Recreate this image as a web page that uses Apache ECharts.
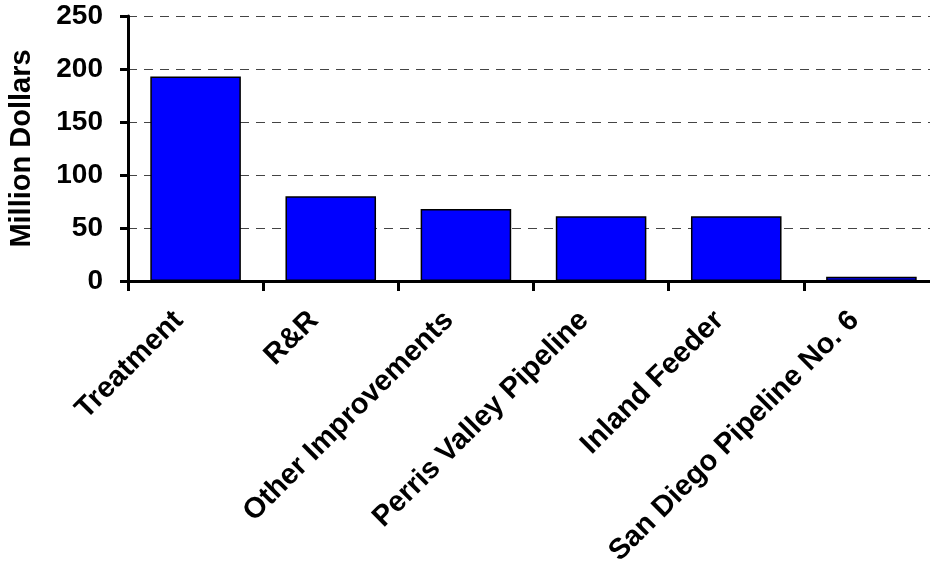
<!DOCTYPE html>
<html>
<head>
<meta charset="utf-8">
<script src="https://cdn.jsdelivr.net/npm/echarts@6/dist/echarts.min.js"></script>
<style>
  html, body { margin: 0; padding: 0; background: #fff; }
  #chart { width: 930px; height: 562px; }
</style>
</head>
<body>
<div id="chart"></div>
<script>
// categories and values (million dollars)
const categories = [
  "Treatment",
  "R&R",
  "Other Improvements",
  "Perris Valley Pipeline",
  "Inland Feeder",
  "San Diego Pipeline No. 6",
];
const spending = [193, 80, 68, 61, 61, 4];
const yTicks = [0, 50, 100, 150, 200, 250];

const font = "'Liberation Sans', Arial, sans-serif";

function renderChart() {
  const options = {
    animation: false,
    grid: {
      left: 128,
      top: 16,
      bottom: 281,
      width: 811,
      containLabel: false,
      outerBoundsMode: "none",
    },
    xAxis: {
      type: "category",
      data: categories,
      axisLine: { lineStyle: { color: "#000", width: 3 } },
      axisTick: {
        show: true,
        length: 10,
        lineStyle: { color: "#000", width: 3 },
      },
      axisLabel: {
        interval: 0,
        rotate: 45,
        margin: 18,
        padding: [0, 24, 0, 0],
        color: "#000",
        fontFamily: font,
        fontWeight: "bold",
        fontSize: 29,
      },
    },
    yAxis: {
      type: "value",
      min: yTicks[0],
      max: yTicks[yTicks.length - 1],
      interval: 50,
      name: "Million Dollars",
      nameLocation: "middle",
      nameGap: 92,
      nameTextStyle: {
        color: "#000",
        fontFamily: font,
        fontWeight: "bold",
        fontSize: 29,
      },
      axisLine: { show: true, lineStyle: { color: "#000", width: 3 } },
      axisTick: { show: true, length: 8, lineStyle: { color: "#000", width: 3 } },
      axisLabel: {
        margin: 25,
        color: "#000",
        fontFamily: font,
        fontWeight: "bold",
        fontSize: 28,
      },
      splitLine: {
        lineStyle: { color: "#444", width: 1, type: [9, 7] },
      },
    },
    series: [
      {
        type: "bar",
        data: spending,
        barCategoryGap: "33%",
        itemStyle: { color: "#0000ff", borderColor: "#000", borderWidth: 1.5 },
      },
    ],
  };

  const chart = echarts.init(document.querySelector("#chart"));
  chart.setOption(options);
}

document.addEventListener("DOMContentLoaded", renderChart);
</script>
</body>
</html>
